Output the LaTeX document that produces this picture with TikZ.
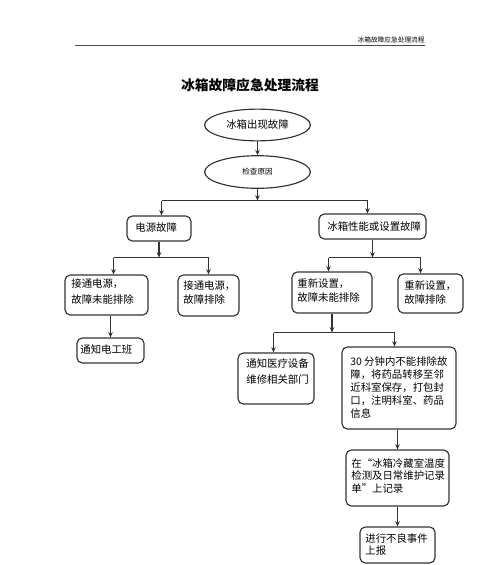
\documentclass[tikz,border=0pt]{standalone}
\usepackage{fontspec}
\setmainfont{Noto Sans CJK SC}
\usetikzlibrary{shapes.geometric,fit,arrows.meta,calc}
\begin{document}
\begin{tikzpicture}[x=0.567pt,y=-0.567pt,
  box/.style={draw=black!80, line width=0.65pt, rounded corners=3pt, inner sep=0pt},
  oval/.style={ellipse, draw=black!80, line width=0.65pt, inner sep=0pt},
  txt/.style={font=\fontsize{5.9}{#1}\selectfont, align=left, inner sep=0pt, anchor=north west},
  txt/.default=7.4,
  ln/.style={draw=black!80, line width=0.6pt},
  arr/.style={ln, -{Stealth[length=3pt,width=2.6pt]}},
]
\useasboundingbox (0,0) rectangle (500,565);
% header
\node[font=\fontsize{3.8}{4}\selectfont, anchor=south east, inner sep=0pt] (hdr) at (425,43) {冰箱故障应急处理流程};
\draw[black!70, line width=0.4pt] (75,45.5) -- (425,45.5);
% title
\node[font=\fontsize{7.8}{9}\selectfont\bfseries, inner sep=0pt] (title) at (250,85) {冰箱故障应急处理流程};
% ellipses
\node[oval, minimum width=60pt, minimum height=18pt, font=\fontsize{5.9}{7}\selectfont] (e1) at (257.5,125) {冰箱出现故障};
\node[oval, minimum width=60pt, minimum height=18.5pt, font=\fontsize{4.3}{5}\selectfont] (e2) at (257.5,172) {检查原因};
% boxes
\node[box, fit={(127,216) (191,241)}] (b1) {};
\node[box, fit={(319,214) (426,239)}] (b2) {};
\node[box, fit={(65,275) (148,315)}] (b3) {};
\node[box, fit={(178,275) (239,316)}] (b4) {};
\node[box, fit={(77,338) (144,363)}] (b5) {};
\node[box, fit={(292,272) (372,313)}] (b6) {};
\node[box, fit={(398,274) (463,313)}] (b7) {};
\node[box, fit={(238,353) (314,404)}] (b8) {};
\node[box, fit={(342,347) (456,429)}] (b9) {};
\node[box, fit={(346,450) (449,506)}] (b10) {};
\node[box, fit={(360,527) (435,563)}] (b11) {};
% texts
\node[txt, anchor=west] (t1) at (135,228) {电源故障};
\node[txt, anchor=west] (t2) at (327,227) {冰箱性能或设置故障};
\node[txt=9.4] (t3) at (71,278) {接通电源，\\故障未能排除};
\node[txt=8.0] (t4) at (183,280) {接通电源，\\故障排除};
\node[txt, anchor=west] (t5) at (80,350) {通知电工班};
\node[txt=8.0] (t6) at (297,278) {重新设置，\\故障未能排除};
\node[txt=8.0] (t7) at (404,280) {重新设置，\\故障排除};
\node[txt=9.4] (t8) at (246,358) {通知医疗设备\\维修相关部门};
\node[txt=7.4] (t9) at (350,356) {30 分钟内不能排除故\\障，将药品转移至邻\\近科室保存，打包封\\口，注明科室、药品\\信息};
\node[txt=7.2] (t10) at (351,458) {在“冰箱冷藏室温度\\检测及日常维护记录\\单”上记录};
\node[txt=7.2] (t11) at (365,533) {进行不良事件\\上报};
% junction coordinates
\coordinate (L1) at (161.5,200.5); \coordinate (R1) at (367.5,200.5);
\coordinate (L2) at (113.5,257.5); \coordinate (R2) at (208.5,257.5);
\coordinate (L3) at (328.5,257.5); \coordinate (R3) at (420.5,257.5);
\coordinate (L4) at (273.5,332.5); \coordinate (R4) at (394.5,332.5);
% connectors
\draw[arr] (e1.south) -- (e2.north);
\draw[arr] (e2.south) -- (e2.south |- L1);
\draw[ln] (L1) -- (R1);
\draw[arr] (L1) -- (L1 |- b1.north);
\draw[arr] (R1) -- (R1 |- b2.north);
\draw[arr] (b1.south) -- (b1.south |- L2);
\draw[ln] (L2) -- (R2);
\draw[arr] (L2) -- (L2 |- b3.north);
\draw[arr] (R2) -- (R2 |- b4.north);
\draw[arr] (b2.south) -- (b2.south |- L3);
\draw[ln] (L3) -- (R3);
\draw[arr] (L3) -- (L3 |- b6.north);
\draw[arr] (R3) -- (R3 |- b7.north);
\draw[arr] (b5.north |- b3.south) -- (b5.north);
\draw[arr] (b6.south) -- (b6.south |- L4);
\draw[ln] (L4) -- (R4);
\draw[arr] (L4) -- (L4 |- b8.north);
\draw[arr] (R4) -- (R4 |- b9.north);
\draw[arr] (b10.north |- b9.south) -- (b10.north);
\draw[arr] (b11.north |- b10.south) -- (b11.north);
\end{tikzpicture}
\end{document}
